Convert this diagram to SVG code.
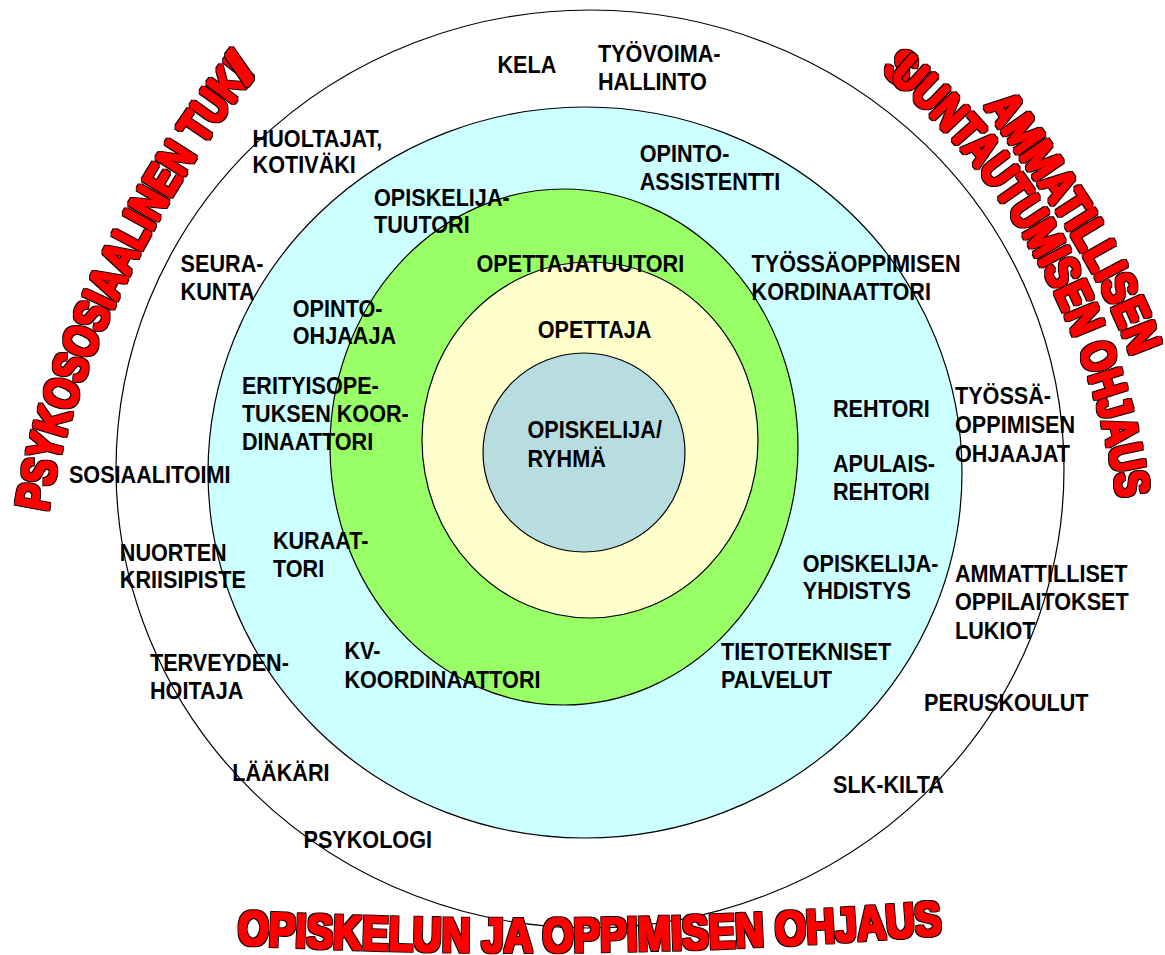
<svg xmlns="http://www.w3.org/2000/svg" width="1165" height="955" viewBox="0 0 1165 955">
<defs>
<style>
.ring{stroke:#000;stroke-width:1.2}
.lbl{font-family:"Liberation Sans",Arial,sans-serif;font-weight:bold;font-size:23px;fill:#000}
.big{font-family:"Liberation Sans",Arial,sans-serif;font-weight:bold;font-size:48px;fill:#ff0000;filter:url(#wordart)}
</style>
<filter id="wordart" x="-10%" y="-10%" width="120%" height="120%">
<feMorphology in="SourceAlpha" operator="dilate" radius="1" result="inner"/>
<feMorphology in="SourceAlpha" operator="dilate" radius="2.2" result="outer"/>
<feFlood flood-color="#000000" result="k"/>
<feComposite in="k" in2="outer" operator="in" result="blk"/>
<feFlood flood-color="#ff0000" result="r"/>
<feComposite in="r" in2="inner" operator="in" result="red"/>
<feMerge><feMergeNode in="blk"/><feMergeNode in="red"/></feMerge>
</filter>
<path id="arcLeft" d="M 48 512 C 73 360, 165 185, 265 62"/>
<path id="arcR1" d="M 984 106 C 1041 188, 1097 262, 1131 356"/>
<path id="arcR2" d="M 881 71 C 1012 180, 1087 322, 1116 489"/>
<path id="arcBottom" d="M 237 944 Q 590 964 945 934"/>
</defs>
<rect width="1165" height="955" fill="#fff"/>
<g id="ring-outer"><ellipse class="ring" cx="590" cy="469" rx="474" ry="459" fill="#fff"/></g>
<g id="ring-cyan"><ellipse class="ring" cx="585" cy="472.5" rx="377" ry="365.5" fill="#ccffff"/></g>
<g id="ring-green"><ellipse class="ring" cx="564" cy="447" rx="234" ry="258" fill="#99ff66"/></g>
<g id="ring-yellow"><ellipse class="ring" cx="590" cy="440" rx="168" ry="178" fill="#ffffcc"/></g>
<g id="ring-center"><ellipse class="ring" cx="584" cy="452.5" rx="101" ry="99.5" fill="#b8dde0"/></g>
<g id="connectors"></g>
<g id="labels">
<g id="n-kela"><text class="lbl" transform="translate(497.5 73) scale(.94 1)">KELA</text></g>
<g id="n-tyovoima"><text class="lbl" transform="translate(598 61.7) scale(.94 1)"><tspan x="0">TYÖVOIMA-</tspan><tspan x="0" dy="28.3">HALLINTO</tspan></text></g>
<g id="n-huoltajat"><text class="lbl" transform="translate(252.6 146.7) scale(.94 1)"><tspan x="0">HUOLTAJAT,</tspan><tspan x="0" dy="26.6">KOTIVÄKI</tspan></text></g>
<g id="n-opintoassistentti"><text class="lbl" transform="translate(639.7 161.7) scale(.94 1)"><tspan x="0">OPINTO-</tspan><tspan x="0" dy="28.3">ASSISTENTTI</tspan></text></g>
<g id="n-opiskelijatuutori"><text class="lbl" transform="translate(374 206) scale(.94 1)"><tspan x="0">OPISKELIJA-</tspan><tspan x="0" dy="27">TUUTORI</tspan></text></g>
<g id="n-opettajatuutori"><text class="lbl" transform="translate(476.5 271.7) scale(.94 1)">OPETTAJATUUTORI</text></g>
<g id="n-tyossaoppimisenkoord"><text class="lbl" transform="translate(751.6 271.7) scale(.94 1)"><tspan x="0">TYÖSSÄOPPIMISEN</tspan><tspan x="0" dy="28.3">KORDINAATTORI</tspan></text></g>
<g id="n-seurakunta"><text class="lbl" transform="translate(180.6 271.7) scale(.94 1)"><tspan x="0">SEURA-</tspan><tspan x="0" dy="28.3">KUNTA</tspan></text></g>
<g id="n-opinto-ohjaaja"><text class="lbl" transform="translate(292.8 316.7) scale(.94 1)"><tspan x="0">OPINTO-</tspan><tspan x="0" dy="27.3">OHJAAJA</tspan></text></g>
<g id="n-opettaja"><text class="lbl" transform="translate(537.7 338) scale(.94 1)">OPETTAJA</text></g>
<g id="n-erityisope"><text class="lbl" transform="translate(241.9 394.3) scale(.94 1)"><tspan x="0">ERITYISOPE-</tspan><tspan x="0" dy="27.8">TUKSEN KOOR-</tspan><tspan x="0" dy="27.8">DINAATTORI</tspan></text></g>
<g id="n-rehtori"><text class="lbl" transform="translate(833 416.7) scale(.94 1)">REHTORI</text></g>
<g id="n-tyossaoppimisenohjaajat"><text class="lbl" transform="translate(955 404.3) scale(.94 1)"><tspan x="0">TYÖSSÄ-</tspan><tspan x="0" dy="28.7">OPPIMISEN</tspan><tspan x="0" dy="28.7">OHJAAJAT</tspan></text></g>
<g id="n-opiskelija-ryhma"><text class="lbl" transform="translate(527.4 438.3) scale(.94 1)"><tspan x="0">OPISKELIJA/</tspan><tspan x="0" dy="28.4">RYHMÄ</tspan></text></g>
<g id="n-sosiaalitoimi"><text class="lbl" transform="translate(68.9 483) scale(.94 1)">SOSIAALITOIMI</text></g>
<g id="n-apulaisrehtori"><text class="lbl" transform="translate(833 471.7) scale(.94 1)"><tspan x="0">APULAIS-</tspan><tspan x="0" dy="28.3">REHTORI</tspan></text></g>
<g id="n-nuorten"><text class="lbl" transform="translate(119.8 560.7) scale(.94 1)"><tspan x="0">NUORTEN</tspan><tspan x="0" dy="27.6">KRIISIPISTE</tspan></text></g>
<g id="n-kuraattori"><text class="lbl" transform="translate(272.9 549.3) scale(.94 1)"><tspan x="0">KURAAT-</tspan><tspan x="0" dy="27.4">TORI</tspan></text></g>
<g id="n-opiskelijayhdistys"><text class="lbl" transform="translate(802.8 571.7) scale(.94 1)"><tspan x="0">OPISKELIJA-</tspan><tspan x="0" dy="27.6">YHDISTYS</tspan></text></g>
<g id="n-ammatilliset"><text class="lbl" transform="translate(955 581.7) scale(.94 1)"><tspan x="0">AMMATTILLISET</tspan><tspan x="0" dy="28.8">OPPILAITOKSET</tspan><tspan x="0" dy="28.8">LUKIOT</tspan></text></g>
<g id="n-tietotekniset"><text class="lbl" transform="translate(721 660) scale(.94 1)"><tspan x="0">TIETOTEKNISET</tspan><tspan x="0" dy="28.3">PALVELUT</tspan></text></g>
<g id="n-terveydenhoitaja"><text class="lbl" transform="translate(150 670.7) scale(.94 1)"><tspan x="0">TERVEYDEN-</tspan><tspan x="0" dy="28.3">HOITAJA</tspan></text></g>
<g id="n-kv"><text class="lbl" transform="translate(344.4 659.3) scale(.94 1)"><tspan x="0">KV-</tspan><tspan x="0" dy="28.4">KOORDINAATTORI</tspan></text></g>
<g id="n-peruskoulut"><text class="lbl" transform="translate(924 710.7) scale(.94 1)">PERUSKOULUT</text></g>
<g id="n-slk"><text class="lbl" transform="translate(833 792.7) scale(.94 1)">SLK-KILTA</text></g>
<g id="n-laakari"><text class="lbl" transform="translate(232.3 781) scale(.94 1)">LÄÄKÄRI</text></g>
<g id="n-psykologi"><text class="lbl" transform="translate(303.5 847.7) scale(.94 1)">PSYKOLOGI</text></g>
</g>
<g id="headings">
<g id="h-psykososiaalinen"><text class="big"><textPath href="#arcLeft" textLength="488" lengthAdjust="spacingAndGlyphs">PSYKOSOSIAALINEN TUKI</textPath></text><text class="big"><textPath href="#arcLeft" startOffset="474" textLength="22" lengthAdjust="spacingAndGlyphs">/</textPath></text></g>
<g id="h-ammatillisen"><text class="big"><textPath href="#arcR1" textLength="292" lengthAdjust="spacingAndGlyphs">AMMATILLISEN</textPath></text></g>
<g id="h-suuntautumisen"><text class="big"><textPath href="#arcR2" textLength="26" lengthAdjust="spacingAndGlyphs">S</textPath></text><text class="big"><textPath href="#arcR2" startOffset="10" textLength="490" lengthAdjust="spacingAndGlyphs">UUNTAUTUMISEN OHJAUS</textPath></text></g>
<g id="h-opiskelun"><text class="big"><textPath href="#arcBottom" textLength="706" lengthAdjust="spacingAndGlyphs">OPISKELUN JA OPPIMISEN OHJAUS</textPath></text></g>
</g>
</svg>
